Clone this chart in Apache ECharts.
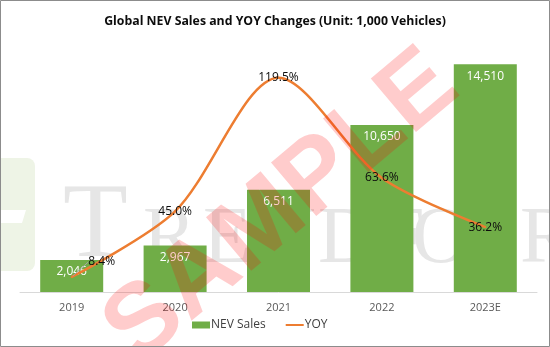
<!DOCTYPE html>
<html>
<head>
<meta charset="utf-8">
<script src="https://cdn.jsdelivr.net/npm/echarts@6/dist/echarts.min.js"></script>
<style>
html,body{margin:0;padding:0;background:#fff;}
#chart{width:550px;height:347px;}
</style>
</head>
<body>
<div id="chart"></div>
<script>
const categories = ['2019', '2020', '2021', '2022', '2023E'];
const nevSales = [2046, 2967, 6511, 10650, 14510];
const yoy = [8.4, 45.0, 119.5, 63.6, 36.2];
const titleText = 'Global NEV Sales and YOY Changes (Unit: 1,000 Vehicles)';

const FONT = '"Open Sans", "Liberation Sans", sans-serif';
const SERIF = '"Liberation Serif", serif';
const chart = echarts.init(document.getElementById('chart'), null, {renderer: 'canvas'});

const WM = '#e6e6e6';
const wmLetters = [
  ['T', 63, 106], ['R', 143, 80], ['E', 203, 80], ['N', 258, 80], ['D', 318, 80],
  ['F', 380, 80], ['O', 412, 80], ['R', 520, 80]
];

const yoyData = yoy.map((v, i) => i === 0
  ? {value: v, labelLine: {show: true, lineStyle: {color: '#a6a6a6', width: 1}}}
  : v);

chart.setOption({
  animation: false,
  backgroundColor: '#ffffff',
  title: {
    text: titleText,
    left: 'center',
    top: 10,
    textStyle: {fontFamily: FONT, fontSize: 12.3, fontWeight: 'bold', color: '#0d0d0d'}
  },
  grid: {left: 20, right: 13, top: 41, bottom: 55, containLabel: false},
  legend: {
    bottom: 11,
    left: 187,
    itemWidth: 18,
    itemHeight: 7,
    itemGap: 20,
    textStyle: {fontFamily: FONT, fontSize: 12, color: '#404040', padding: [0, 0, 0, -4]},
    data: [
      {name: 'NEV Sales', icon: 'rect'},
      {name: 'YOY', icon: 'path://M0,2.5H20V4.5H0Z M0,0H0.01V0.01H0Z M0,7H0.01V7.01H0Z'}
    ]
  },
  xAxis: {
    type: 'category',
    data: categories,
    axisLine: {lineStyle: {color: '#d9d9d9', width: 1}},
    axisTick: {show: false},
    axisLabel: {fontFamily: FONT, fontSize: 11, color: '#595959', margin: 10}
  },
  yAxis: [
    {type: 'value', min: 0, max: 16000, show: false, splitLine: {show: false}},
    {type: 'value', min: 0, max: 140, show: false, splitLine: {show: false}}
  ],
  series: [
    {
      name: 'NEV Sales',
      type: 'bar',
      data: nevSales,
      barWidth: 63,
      itemStyle: {color: '#70ad47'},
      label: {
        show: true,
        position: 'insideTop',
        distance: 6,
        fontFamily: FONT,
        fontSize: 12,
        color: '#ffffff',
        formatter: p => p.value.toLocaleString('en-US')
      },
      z: 2
    },
    {
      name: 'YOY',
      type: 'line',
      yAxisIndex: 1,
      data: yoyData,
      smooth: 0.3,
      symbol: 'circle',
      symbolSize: 2,
      showSymbol: true,
      lineStyle: {color: '#ed7d31', width: 2.5},
      itemStyle: {color: '#ed7d31'},
      label: {
        show: true,
        position: 'inside',
        fontFamily: FONT,
        fontSize: 12,
        color: '#0d0d0d',
        formatter: p => p.value.toFixed(1) + '%'
      },
      labelLayout: p => p.dataIndex === 0 ? {dx: 30, dy: -15} : {},
      z: 3
    }
  ],
  graphic: [
    {
      type: 'group', z: -10, silent: true,
      children: [
        {type: 'rect', shape: {x: -10, y: 158, width: 45, height: 113, r: 8}, style: {fill: '#eef4e6'}},
        {type: 'polygon', shape: {points: [[-1, 210], [26, 210], [22, 223], [-1, 223]]}, style: {fill: '#ffffff'}}
      ].concat(wmLetters.map(([ch, x, fs]) => ({
        type: 'text',
        x: x, y: 281,
        style: {
          text: ch, fontFamily: SERIF, fontSize: fs, fill: WM,
          align: 'left', verticalAlign: 'bottom'
        }
      })))
    },
    {
      type: 'text', z: 100, silent: true,
      x: 282, y: 208, rotation: 0.70,
      style: {
        text: 'SAMPLE',
        fontFamily: '"Liberation Sans", Arial, sans-serif',
        fontWeight: 'bold',
        fontSize: 102,
        fill: 'rgba(255,0,0,0.2)',
        align: 'center',
        verticalAlign: 'middle'
      }
    },
    {
      type: 'rect', z: 101, silent: true,
      shape: {x: 0.5, y: 0.5, width: 549, height: 346},
      style: {fill: 'none', stroke: '#8c8c8c', lineWidth: 1}
    }
  ]
});
</script>
</body>
</html>
